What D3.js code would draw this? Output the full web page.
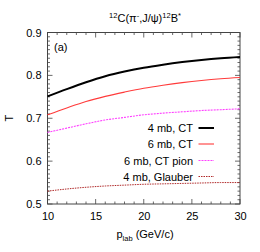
<!DOCTYPE html>
<html><head><meta charset="utf-8">
<script src="https://cdn.jsdelivr.net/npm/d3@7"></script>
<style>body{margin:0;background:#fff}svg{display:block}text{font-family:"Liberation Sans",Arial,sans-serif;fill:#000}</style>
</head><body>
<script>
const plab = [10, 12, 14, 16, 18, 20, 22, 24, 26, 28, 30];
const ct4 = [0.751, 0.768, 0.784, 0.798, 0.809, 0.818, 0.825, 0.831, 0.836, 0.840, 0.843];
const ct6 = [0.708, 0.724, 0.739, 0.751, 0.761, 0.770, 0.777, 0.783, 0.788, 0.792, 0.795];
const ct6pion = [0.667, 0.677, 0.687, 0.696, 0.702, 0.708, 0.712, 0.715, 0.718, 0.720, 0.722];
const glauber4 = [0.530, 0.535, 0.539, 0.542, 0.544, 0.546, 0.547, 0.548, 0.549, 0.550, 0.550];
const seriesNames = ["4 mb, CT", "6 mb, CT", "6 mb, CT pion", "4 mb, Glauber"];
const xTicks = [10, 15, 20, 25, 30];
const yTicks = [0.5, 0.6, 0.7, 0.8, 0.9];

const W = 260, H = 252;
const m = {l: 47.5, r: 20, t: 32.5, b: 48};
const svg = d3.select("body").append("svg").attr("width", W).attr("height", H);
const x = d3.scaleLinear().domain([10, 30]).range([m.l, W - m.r]);
const y = d3.scaleLinear().domain([0.5, 0.9]).range([H - m.b, m.t]);

const frameCol = "#444";
// minor ticks
const g = svg.append("g");
d3.range(10, 30.01, 1).forEach(v => {
  const major = xTicks.includes(v);
  const len = major ? 5 : 2.5;
  g.append("line").attr("x1", x(v)).attr("x2", x(v)).attr("y1", y(0.5)).attr("y2", y(0.5) - len).attr("stroke", frameCol).attr("stroke-width", 0.8);
  g.append("line").attr("x1", x(v)).attr("x2", x(v)).attr("y1", y(0.9)).attr("y2", y(0.9) + len).attr("stroke", frameCol).attr("stroke-width", 0.8);
});
d3.range(0, 41).map(i => 0.5 + i * 0.01).forEach((v, i) => {
  const major = i % 10 === 0;
  const len = major ? 5 : 2.5;
  g.append("line").attr("y1", y(v)).attr("y2", y(v)).attr("x1", x(10)).attr("x2", x(10) + len).attr("stroke", frameCol).attr("stroke-width", 0.8);
  g.append("line").attr("y1", y(v)).attr("y2", y(v)).attr("x1", x(30)).attr("x2", x(30) - len).attr("stroke", frameCol).attr("stroke-width", 0.8);
});

// axes labels via d3 axes
const xAxis = d3.axisBottom(x).tickValues(xTicks).tickSize(0).tickPadding(8).tickFormat(d3.format("d"));
const xa = svg.append("g").attr("transform", `translate(0,${y(0.5)})`).call(xAxis);
xa.select(".domain").remove();
xa.selectAll("text").attr("font-size", 11).attr("font-family", "Liberation Sans, Arial, sans-serif").attr("fill", "#000");
const yAxis = d3.axisLeft(y).tickValues(yTicks).tickSize(0).tickPadding(6).tickFormat(d3.format(".1f"));
const ya = svg.append("g").attr("transform", `translate(${x(10)},0)`).call(yAxis);
ya.select(".domain").remove();
ya.selectAll("text").attr("font-size", 11).attr("font-family", "Liberation Sans, Arial, sans-serif").attr("fill", "#000");

// frame
svg.append("rect").attr("x", x(10)).attr("y", y(0.9)).attr("width", x(30) - x(10)).attr("height", y(0.5) - y(0.9))
  .attr("fill", "none").attr("stroke", frameCol).attr("stroke-width", 1);

const styles = [
  {data: ct4, color: "#000000", width: 2, dash: null},
  {data: ct6, color: "#ff3b3b", width: 1.1, dash: null},
  {data: ct6pion, color: "#ff40ff", width: 1.1, dash: "2,1"},
  {data: glauber4, color: "#b02828", width: 1, dash: "1.5,1"}
];
const line = d3.line().x((d, i) => x(plab[i])).y(d => y(d)).curve(d3.curveMonotoneX);
styles.forEach(s => {
  svg.append("path").attr("d", line(s.data)).attr("fill", "none").attr("stroke", s.color)
    .attr("stroke-width", s.width).attr("stroke-dasharray", s.dash);
});

// legend
const legY = [128, 144, 160.5, 176.5];
seriesNames.forEach((n, i) => {
  svg.append("text").attr("x", 193).attr("y", legY[i] + 4).attr("text-anchor", "end").attr("font-size", 11).text(n);
  svg.append("line").attr("x1", 198.5).attr("x2", 214).attr("y1", legY[i]).attr("y2", legY[i])
    .attr("stroke", styles[i].color).attr("stroke-width", styles[i].width).attr("stroke-dasharray", styles[i].dash);
});

// (a)
svg.append("text").attr("x", 54).attr("y", 51).attr("font-size", 11).text("(a)");

// title
const t = svg.append("text").attr("x", 145).attr("y", 22).attr("text-anchor", "middle").attr("font-size", 11);
t.append("tspan").attr("font-size", 7.5).attr("dy", -4).text("12");
t.append("tspan").attr("dy", 4).text("C(π");
t.append("tspan").attr("font-size", 7.5).attr("dy", -4).text("-");
t.append("tspan").attr("dy", 4).text(",J/ψ)");
t.append("tspan").attr("font-size", 7.5).attr("dy", -4).text("12");
t.append("tspan").attr("dy", 4).text("B");
t.append("tspan").attr("font-size", 7.5).attr("dy", -4).text("*");

// x label
const xl = svg.append("text").attr("x", 145).attr("y", 238).attr("text-anchor", "middle").attr("font-size", 11);
xl.append("tspan").text("p");
xl.append("tspan").attr("font-size", 7.5).attr("dy", 3).text("lab");
xl.append("tspan").attr("dy", -3).text(" (GeV/c)");

// y label
svg.append("text").attr("transform", `translate(13,${y(0.7)}) rotate(-90)`).attr("text-anchor", "middle").attr("font-size", 11).text("T");
</script>
</body></html>
